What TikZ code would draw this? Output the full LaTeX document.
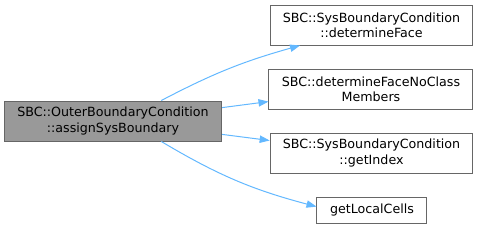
\documentclass[tikz,border=0pt]{standalone}
\usepackage{fontspec}
\setmainfont{DejaVu Sans}
\usetikzlibrary{arrows.meta}
\definecolor{edgeblue}{HTML}{63B8FF}
\definecolor{boxgrey}{HTML}{666666}
\definecolor{mainfill}{HTML}{999999}

\begin{document}
\begin{tikzpicture}[
    x=0.75pt, y=-0.75pt,
    every node/.style={font=\fontsize{9.5}{11.3}\selectfont},
    func/.style={rectangle, draw=boxgrey, fill=white, line width=0.75pt,
        inner sep=0pt, align=center, minimum height=30pt},
    call/.style={draw=edgeblue, line width=0.75pt,
        -{Triangle[length=7.5pt, width=5.5pt]}},
]
\useasboundingbox (0,0) rectangle (480,229);

% Caller
\node[func, fill=mainfill, minimum width=163pt] (assign) at (113,121)
    {SBC::OuterBoundaryCondition\\::assignSysBoundary};

% Callees
\node[func, minimum width=152pt] (detface) at (371.5,25)
    {SBC::SysBoundaryCondition\\::determineFace};
\node[func, minimum width=153pt] (detfacenc) at (371,89)
    {SBC::determineFaceNoClass\\Members};
\node[func, minimum width=152pt] (getidx) at (371.5,153)
    {SBC::SysBoundaryCondition\\::getIndex};
\node[func, minimum width=82.5pt, minimum height=19pt] (cells) at (372,210.5)
    {getLocalCells};

% Calls
\draw[call] (assign.23) to[bend left=6] (detface.196);
\draw[call] (assign.7) -- (detfacenc.187);
\draw[call] (assign.-7) -- (getidx.173);
\draw[call] (assign.-23) to[bend right=8] (cells.176);

\end{tikzpicture}
\end{document}
